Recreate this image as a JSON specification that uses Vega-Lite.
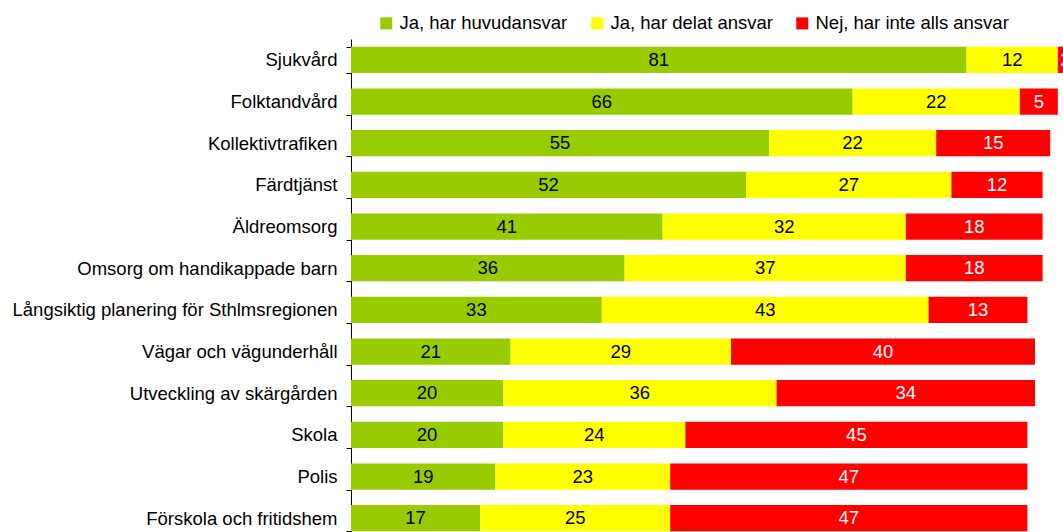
{
  "$schema": "https://vega.github.io/schema/vega-lite/v6.json",
  "autosize": {"type": "none"},
  "padding": {"left": 351, "top": 39, "right": 0, "bottom": 0},
  "width": 760,
  "height": 500,
  "background": "white",
  "config": {
    "font": "Liberation Sans",
    "view": {"stroke": null}
  },
  "data": {
    "values": [
      {"cat": "Sjukvård", "resp": "Ja, har huvudansvar", "o": 1, "v": 81},
      {"cat": "Sjukvård", "resp": "Ja, har delat ansvar", "o": 2, "v": 12},
      {"cat": "Sjukvård", "resp": "Nej, har inte alls ansvar", "o": 3, "v": 2},
      {"cat": "Folktandvård", "resp": "Ja, har huvudansvar", "o": 1, "v": 66},
      {"cat": "Folktandvård", "resp": "Ja, har delat ansvar", "o": 2, "v": 22},
      {"cat": "Folktandvård", "resp": "Nej, har inte alls ansvar", "o": 3, "v": 5},
      {"cat": "Kollektivtrafiken", "resp": "Ja, har huvudansvar", "o": 1, "v": 55},
      {"cat": "Kollektivtrafiken", "resp": "Ja, har delat ansvar", "o": 2, "v": 22},
      {"cat": "Kollektivtrafiken", "resp": "Nej, har inte alls ansvar", "o": 3, "v": 15},
      {"cat": "Färdtjänst", "resp": "Ja, har huvudansvar", "o": 1, "v": 52},
      {"cat": "Färdtjänst", "resp": "Ja, har delat ansvar", "o": 2, "v": 27},
      {"cat": "Färdtjänst", "resp": "Nej, har inte alls ansvar", "o": 3, "v": 12},
      {"cat": "Äldreomsorg", "resp": "Ja, har huvudansvar", "o": 1, "v": 41},
      {"cat": "Äldreomsorg", "resp": "Ja, har delat ansvar", "o": 2, "v": 32},
      {"cat": "Äldreomsorg", "resp": "Nej, har inte alls ansvar", "o": 3, "v": 18},
      {"cat": "Omsorg om handikappade barn", "resp": "Ja, har huvudansvar", "o": 1, "v": 36},
      {"cat": "Omsorg om handikappade barn", "resp": "Ja, har delat ansvar", "o": 2, "v": 37},
      {"cat": "Omsorg om handikappade barn", "resp": "Nej, har inte alls ansvar", "o": 3, "v": 18},
      {"cat": "Långsiktig planering för Sthlmsregionen", "resp": "Ja, har huvudansvar", "o": 1, "v": 33},
      {"cat": "Långsiktig planering för Sthlmsregionen", "resp": "Ja, har delat ansvar", "o": 2, "v": 43},
      {"cat": "Långsiktig planering för Sthlmsregionen", "resp": "Nej, har inte alls ansvar", "o": 3, "v": 13},
      {"cat": "Vägar och vägunderhåll", "resp": "Ja, har huvudansvar", "o": 1, "v": 21},
      {"cat": "Vägar och vägunderhåll", "resp": "Ja, har delat ansvar", "o": 2, "v": 29},
      {"cat": "Vägar och vägunderhåll", "resp": "Nej, har inte alls ansvar", "o": 3, "v": 40},
      {"cat": "Utveckling av skärgården", "resp": "Ja, har huvudansvar", "o": 1, "v": 20},
      {"cat": "Utveckling av skärgården", "resp": "Ja, har delat ansvar", "o": 2, "v": 36},
      {"cat": "Utveckling av skärgården", "resp": "Nej, har inte alls ansvar", "o": 3, "v": 34},
      {"cat": "Skola", "resp": "Ja, har huvudansvar", "o": 1, "v": 20},
      {"cat": "Skola", "resp": "Ja, har delat ansvar", "o": 2, "v": 24},
      {"cat": "Skola", "resp": "Nej, har inte alls ansvar", "o": 3, "v": 45},
      {"cat": "Polis", "resp": "Ja, har huvudansvar", "o": 1, "v": 19},
      {"cat": "Polis", "resp": "Ja, har delat ansvar", "o": 2, "v": 23},
      {"cat": "Polis", "resp": "Nej, har inte alls ansvar", "o": 3, "v": 47},
      {"cat": "Förskola och fritidshem", "resp": "Ja, har huvudansvar", "o": 1, "v": 17},
      {"cat": "Förskola och fritidshem", "resp": "Ja, har delat ansvar", "o": 2, "v": 25},
      {"cat": "Förskola och fritidshem", "resp": "Nej, har inte alls ansvar", "o": 3, "v": 47}
    ]
  },
  "encoding": {
    "y": {
      "field": "cat",
      "type": "nominal",
      "sort": null,
      "title": null,
      "scale": {"paddingInner": 0.37, "paddingOuter": 0.185},
      "axis": {
        "domainColor": "#000000",
        "domainWidth": 1,
        "tickColor": "#000000",
        "tickSize": 5,
        "tickBand": "extent",
        "labelFontSize": 18.5,
        "labelColor": "#000000",
        "labelPadding": 9,
        "labelFont": "Liberation Sans",
        "labelLimit": 400
      }
    },
    "order": {"field": "o", "type": "quantitative"}
  },
  "layer": [
    {
      "mark": {"type": "bar"},
      "encoding": {
        "x": {
          "field": "v",
          "type": "quantitative",
          "stack": "zero",
          "scale": {"domain": [0, 100], "nice": false},
          "axis": null
        },
        "color": {
          "field": "resp",
          "type": "nominal",
          "scale": {
            "domain": ["Ja, har huvudansvar", "Ja, har delat ansvar", "Nej, har inte alls ansvar"],
            "range": ["#99CC00", "#FFFF00", "#FF0000"]
          },
          "legend": {
            "title": null,
            "orient": "none",
            "direction": "horizontal",
            "legendX": 26,
            "legendY": -25,
            "symbolType": "square",
            "symbolSize": 144,
            "symbolStrokeWidth": 0,
            "symbolOpacity": 1,
            "labelFontSize": 18.5,
            "labelColor": "#000000",
            "labelFont": "Liberation Sans",
            "labelOffset": 4,
            "columnPadding": 20,
            "labelLimit": 400,
            "padding": 0
          }
        }
      }
    },
    {
      "mark": {"type": "text", "fontSize": 18.5, "font": "Liberation Sans", "align": "center", "baseline": "middle"},
      "encoding": {
        "x": {
          "field": "v",
          "type": "quantitative",
          "stack": "zero",
          "bandPosition": 0.5
        },
        "text": {"field": "v", "type": "quantitative"},
        "color": {
          "condition": {"test": "datum.o === 3", "value": "#FFFFFF"},
          "value": "#000000"
        }
      }
    }
  ]
}
